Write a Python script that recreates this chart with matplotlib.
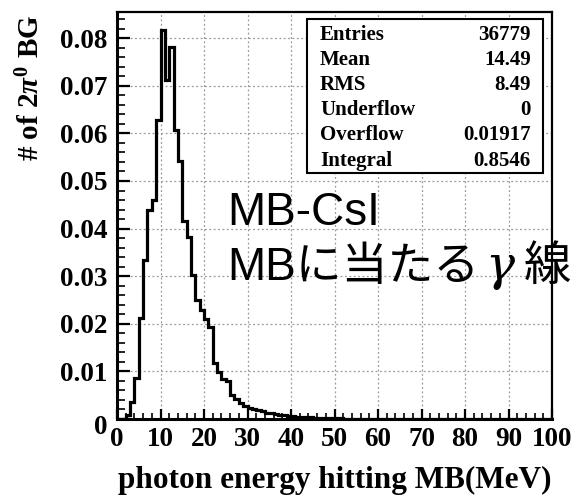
import numpy as np
import matplotlib
matplotlib.use("Agg")
import matplotlib.pyplot as plt
from matplotlib.ticker import MultipleLocator, FuncFormatter
from matplotlib.patches import Rectangle

# Photon energy deposited in the MB (1 MeV bins, 0-100 MeV), normalised counts
bin_edges = np.arange(0, 101, 1)
counts = [
    0.0000, 0.0001, 0.0008, 0.0036, 0.0086, 0.0212, 0.0334, 0.0439, 0.0460, 0.0628,
    0.0817, 0.0712, 0.0782, 0.0607, 0.0541, 0.0415, 0.0383, 0.0303, 0.0250, 0.0229,
    0.0210, 0.0193, 0.0118, 0.0099, 0.0085, 0.0080, 0.0050, 0.0042, 0.0034, 0.0027,
    0.0024, 0.0021, 0.0018, 0.0016, 0.0013, 0.0012, 0.0010, 0.0009, 0.0008, 0.0007,
    0.0006, 0.0005, 0.0005, 0.0004, 0.0004, 0.0003, 0.0003, 0.0003, 0.0002, 0.0002,
    0.0002, 0.0002, 0.0001, 0.0001, 0.0001, 0.0001, 0.0001, 0.0001, 0.0001, 0.0001,
    0.0001, 0.0001, 0.0001, 0.0001, 0.0001, 0.00005, 0.00005, 0.00005, 0.00005, 0.00005,
    0.0000, 0.0000, 0.0000, 0.0000, 0.0000, 0.0000, 0.0000, 0.0000, 0.0000, 0.0000,
    0.0000, 0.0000, 0.0000, 0.0000, 0.0000, 0.0000, 0.0000, 0.0000, 0.0000, 0.0000,
    0.0000, 0.0000, 0.0000, 0.0000, 0.0000, 0.0000, 0.0000, 0.0000, 0.0000, 0.0000,
]

stat_names = ["Entries", "Mean", "RMS", "Underflow", "Overflow", "Integral"]
stat_values = ["36779", "14.49", "8.49", "0", "0.01917", "0.8546"]

x_label = "photon energy hitting MB(MeV)"
y_label = r"# of 2$\pi^0$ BG"
note_line1 = "MB-CsI"
note_line2 = ["MBに当たる", "γ", "線"]

W, H = 577, 496
fig = plt.figure(figsize=(W / 100, H / 100), dpi=100)


def px(x, y):
    return x / W, 1 - y / H


serif = "Liberation Serif"
plt.rcParams["mathtext.fontset"] = "custom"
plt.rcParams["mathtext.rm"] = "Liberation Serif:bold"
plt.rcParams["mathtext.it"] = "Liberation Serif:italic:bold"
plt.rcParams["mathtext.bf"] = "Liberation Serif:bold"

ax_l, ax_r, ax_t, ax_b = 117, 552, 12, 419
ax = fig.add_axes([ax_l / W, 1 - ax_b / H, (ax_r - ax_l) / W, (ax_b - ax_t) / H])

ax.stairs(counts, bin_edges, color="black", linewidth=2.3, zorder=3)

ax.set_xlim(0, 100)
ax.set_ylim(0, 0.0855)
ax.xaxis.set_major_locator(MultipleLocator(10))
ax.xaxis.set_minor_locator(MultipleLocator(2))
ax.yaxis.set_major_locator(MultipleLocator(0.01))
ax.yaxis.set_minor_locator(MultipleLocator(0.002))

ax.grid(True, which="major", color="#999999", linestyle=(0, (1.5, 2.0)), linewidth=0.9, zorder=1)

ax.tick_params(axis="both", which="both", direction="in", top=False, right=False)
ax.tick_params(axis="y", which="major", length=9, width=1.6, pad=7)
ax.tick_params(axis="y", which="minor", length=6, width=1.2)
ax.tick_params(axis="x", which="major", length=7, width=1.6, pad=6)
ax.tick_params(axis="x", which="minor", length=4, width=1.2)

ax.yaxis.set_major_formatter(FuncFormatter(lambda v, p: "" if abs(v) < 1e-9 else f"{v:.2f}"))
ax.xaxis.set_major_formatter(FuncFormatter(lambda v, p: f"{v:.0f}"))
for lab in ax.get_yticklabels():
    lab.set_fontfamily(serif)
    lab.set_fontweight("bold")
    lab.set_fontsize(19.5)
for lab in ax.get_xticklabels():
    lab.set_fontfamily(serif)
    lab.set_fontweight("bold")
    lab.set_fontsize(19.5)

fig.text(*px(101, 428), "0", ha="center", va="center", fontfamily=serif,
         fontweight="bold", fontsize=19.5)

for side in ["left", "bottom"]:
    ax.spines[side].set_linewidth(2.2)
for side in ["top", "right"]:
    ax.spines[side].set_linewidth(1.6)

fig.text(*px(335, 480), x_label, ha="center", va="center", fontfamily=serif,
         fontweight="bold", fontsize=22.5)
fig.text(*px(31, 15), y_label, ha="center", va="top", rotation=90,
         fontfamily=serif, fontweight="bold", fontsize=21)

# Statistics box
bx0, by0, bx1, by1 = 307, 19, 543, 173
box = Rectangle(px(bx0, by1), (bx1 - bx0) / W, (by1 - by0) / H,
                transform=fig.transFigure, facecolor="white", edgecolor="black",
                linewidth=1.5, zorder=5)
fig.patches.append(box)
row_y = [35, 60, 85, 110, 135, 161]
for name, val, ry in zip(stat_names, stat_values, row_y):
    fig.text(*px(320, ry), name, ha="left", va="center", fontfamily=serif,
             fontweight="bold", fontsize=15, zorder=6)
    fig.text(*px(531, ry), val, ha="right", va="center", fontfamily=serif,
             fontweight="bold", fontsize=15, zorder=6)

# Annotation text
jp_family = ["Liberation Sans", "Noto Sans CJK JP"]
fig.text(*px(227, 225), note_line1, ha="left", va="baseline", fontfamily=jp_family,
         fontsize=33, zorder=6)

fig.canvas.draw()
renderer = fig.canvas.get_renderer()
x_cursor = 227
styles = [dict(fontfamily=jp_family, fontsize=33),
          dict(fontfamily=["DejaVu Serif"], fontstyle="italic", fontsize=35),
          dict(fontfamily=jp_family, fontsize=34)]
gaps = [0, 6, 9]
for piece, st, gap in zip(note_line2, styles, gaps):
    t = fig.text(*px(x_cursor + gap, 280), piece, ha="left", va="baseline", zorder=6, **st)
    x_cursor = t.get_window_extent(renderer).x1

fig.savefig("out.png", dpi=100)
